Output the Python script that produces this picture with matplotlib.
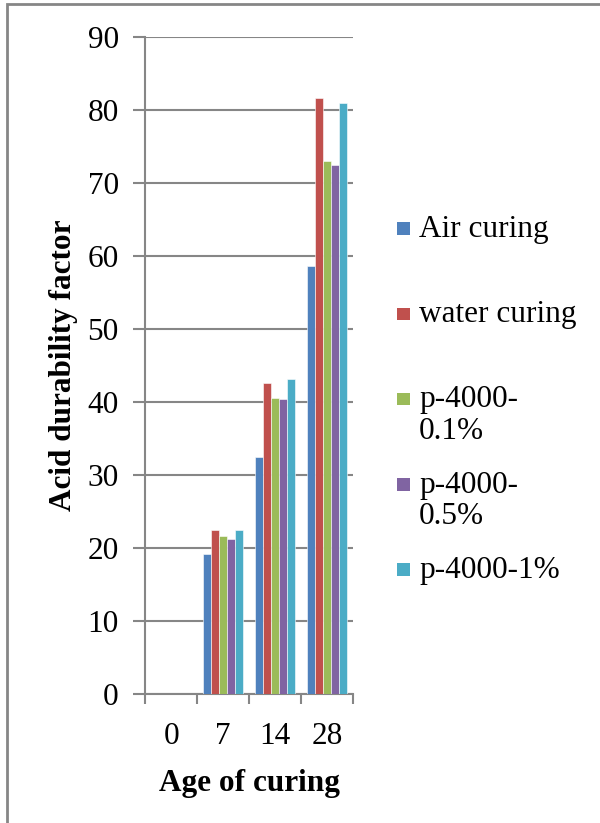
import numpy as np
import matplotlib.pyplot as plt
from matplotlib.patches import Rectangle
from matplotlib.container import BarContainer
from matplotlib.legend_handler import HandlerPatch

ages = ["0", "7", "14", "28"]
series = ["Air curing", "water curing", "p-4000-\n0.1%", "p-4000-\n0.5%", "p-4000-1%"]
air = [0, 19.1, 32.5, 58.6]
water = [0, 22.5, 42.6, 81.6]
p01 = [0, 21.6, 40.6, 73.0]
p05 = [0, 21.2, 40.4, 72.4]
p1 = [0, 22.4, 43.1, 81.0]
colors = ["#4F81BD", "#C0504D", "#9BBB59", "#8064A2", "#4BACC6"]


def square(legend, orig_handle, xdescent, ydescent, width, height, fontsize):

    s = 0.4 * fontsize
    return Rectangle((-xdescent, -ydescent + (height - s) / 2 - 0.5), s, s)


def first_bar(handle, orig):

    handle.update_from(orig.patches[0])
    handle.set_edgecolor("none")


def main():

    plt.rcParams["font.family"] = ["Liberation Serif", "DejaVu Serif"]
    grey = "#868686"
    fs = 22.5

    fig = plt.figure(figsize=(6, 8.23), dpi=100)
    ax = fig.add_axes([0.242, 0.157, 0.346, 0.798])

    x = np.arange(len(ages))
    w = 0.153
    for i, vals in enumerate([air, water, p01, p05, p1]):
        lab = series[i] if "\n" in series[i] else series[i] + "\n "
        ax.bar(x + (i - 2) * w, vals, w, color=colors[i], label=lab,
               edgecolor="white", linewidth=0.4, zorder=3)

    ax.set_xlim(-0.5, 3.5)
    ax.set_ylim(0, 90)
    ax.set_yticks(np.arange(0, 91, 10))
    ax.yaxis.grid(True, color=grey, linewidth=1.5, zorder=0)
    ax.set_xticks(x)
    ax.set_xticklabels(ages)
    ax.set_xticks(np.arange(-0.5, 4, 1), minor=True)
    ax.tick_params(axis="x", which="major", length=0, pad=20, labelsize=fs)
    ax.tick_params(axis="x", which="minor", length=7, width=1.5, color=grey, direction="out")
    ax.tick_params(axis="y", length=9, width=1.5, color=grey, pad=10, labelsize=fs)
    for s in ["top", "right"]:
        ax.spines[s].set_visible(False)
    for s in ["left", "bottom"]:
        ax.spines[s].set_color(grey)
        ax.spines[s].set_linewidth(1.5)

    ax.set_xlabel("Age of curing", fontsize=fs, fontweight="bold", labelpad=13)
    ax.set_ylabel("Acid durability factor", fontsize=fs, fontweight="bold", labelpad=7)

    leg = ax.legend(loc="upper left", bbox_to_anchor=(1.155, 0.748), frameon=False,
                    fontsize=fs, handlelength=0.4, handleheight=0.9,
                    handletextpad=0.29, labelspacing=0.8, borderaxespad=0,
                    handler_map={BarContainer: HandlerPatch(patch_func=square,
                                                            update_func=first_bar)})
    for t in leg.get_texts():
        t.set_linespacing(1.1)
    # keep each square level with the first line of its label
    for col in leg._legend_handle_box.get_children():
        for row in col.get_children():
            row.align = "top"

    # outer frame
    fig.patches.append(Rectangle((7 / 600, -0.1), 1.2, 1 - 4.5 / 823 + 0.1,
                                 transform=fig.transFigure, fill=False,
                                 edgecolor=grey, linewidth=2))

    fig.savefig("out.png", dpi=100)


if __name__ == "__main__":

    main()
